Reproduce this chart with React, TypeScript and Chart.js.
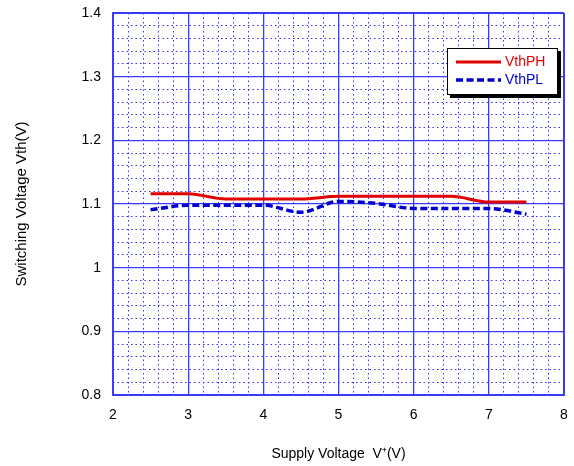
import React, { useEffect, useRef } from "react";
import { Chart, registerables } from "chart.js";

Chart.register(...registerables);

const supplyVoltage = [2.5, 3, 3.5, 4, 4.5, 5, 5.5, 6, 6.5, 7, 7.5];
const vthPH = [1.116, 1.116, 1.108, 1.108, 1.108, 1.112, 1.112, 1.112, 1.112, 1.103, 1.103];
const vthPL = [1.091, 1.098, 1.098, 1.098, 1.087, 1.104, 1.101, 1.093, 1.093, 1.093, 1.084];
const seriesLabels = ["VthPH", "VthPL"];
const xTitle = "Supply Voltage  V\u207A(V)";
const yTitle = "Switching Voltage Vth(V)";

const RED = "#e00000";
const BLUE = "#0000d0";
const GRID_MAJOR = "#3a3aff";
const GRID_MINOR = "#3030ff";
const FONT = "'Liberation Sans', Arial, sans-serif";

const legendBox = {
  id: "legendBox",
  afterDraw(chart: any) {
    const { ctx, chartArea } = chart;
    const w = 111;
    const h = 47;
    const x = chartArea.right - 6 - w;
    const y = chartArea.top + 35;
    ctx.save();
    ctx.fillStyle = "#000";
    ctx.fillRect(x + 3, y + 3, w, h);
    ctx.fillStyle = "#fff";
    ctx.fillRect(x, y, w, h);
    ctx.strokeStyle = "#000";
    ctx.lineWidth = 1;
    ctx.strokeRect(x + 0.5, y + 0.5, w - 1, h - 1);
    const rows = [14, 32];
    chart.data.datasets.forEach((ds: any, i: number) => {
      const ly = y + rows[i];
      ctx.beginPath();
      ctx.strokeStyle = ds.borderColor;
      ctx.lineWidth = ds.borderWidth;
      ctx.setLineDash(ds.borderDash || []);
      ctx.moveTo(x + 9, ly);
      ctx.lineTo(x + 54, ly);
      ctx.stroke();
      ctx.setLineDash([]);
      ctx.fillStyle = ds.borderColor;
      ctx.font = `14px ${FONT}`;
      ctx.textBaseline = "middle";
      ctx.textAlign = "left";
      ctx.fillText(ds.label, x + 58, ly + 0.5);
    });
    ctx.restore();
  },
};

export default function App() {
  const ref = useRef<HTMLCanvasElement | null>(null);

  useEffect(() => {
    document.body.style.margin = "0";
    const canvas = ref.current;
    if (!canvas) return;
    const isInt = (v: number) => Math.abs(v - Math.round(v)) < 1e-6;
    const isTenth = (v: number) => Math.abs(v * 10 - Math.round(v * 10)) < 1e-6;
    const chart = new Chart(canvas, {
      type: "line",
      data: {
        datasets: [
          {
            label: seriesLabels[0],
            data: supplyVoltage.map((x, i) => ({ x, y: vthPH[i] })),
            borderColor: RED,
            borderWidth: 3,
            pointRadius: 0,
            cubicInterpolationMode: "monotone",
            fill: false,
          },
          {
            label: seriesLabels[1],
            data: supplyVoltage.map((x, i) => ({ x, y: vthPL[i] })),
            borderColor: BLUE,
            borderWidth: 3.5,
            borderDash: [7, 3.5],
            pointRadius: 0,
            cubicInterpolationMode: "monotone",
            fill: false,
          },
        ],
      },
      options: {
        animation: false,
        responsive: false,
        layout: { padding: { top: 13, right: 10, left: 0, bottom: 0 } },
        plugins: { legend: { display: false }, tooltip: { enabled: false } },
        scales: {
          x2: {
            type: "linear",
            position: "top",
            min: 2,
            max: 8,
            ticks: { display: false, stepSize: 0.2 },
            grid: {
              drawTicks: false,
              color: (c: any) => (isInt(c.tick?.value ?? 0) ? "rgba(0,0,0,0)" : GRID_MINOR),
              lineWidth: 1,
            },
            border: { display: false, dash: [1.5, 3] },
            afterFit: (s: any) => {
              s.height = 0;
              s.paddingLeft = 0;
              s.paddingRight = 0;
            },
          },
          y2: {
            type: "linear",
            position: "right",
            min: 0.8,
            max: 1.4,
            ticks: { display: false, stepSize: 0.02 },
            grid: {
              drawTicks: false,
              color: (c: any) => (isTenth(c.tick?.value ?? 0) ? "rgba(0,0,0,0)" : GRID_MINOR),
              lineWidth: 1,
            },
            border: { display: false, dash: [1.5, 3] },
            afterFit: (s: any) => {
              s.width = 0;
              s.paddingTop = 0;
              s.paddingBottom = 0;
            },
          },
          x: {
            type: "linear",
            position: "bottom",
            min: 2,
            max: 8,
            ticks: {
              stepSize: 1,
              autoSkip: false,
              maxRotation: 0,
              padding: 12,
              color: "#000",
              font: { family: FONT, size: 14 },
            },
            grid: {
              drawTicks: false,
              color: GRID_MAJOR,
              lineWidth: (c: any) => (c.tick && (c.tick.value === 2 || c.tick.value === 8) ? 2 : 1.3),
            },
            border: { display: true, color: GRID_MAJOR, width: 2 },
            title: {
              display: true,
              text: xTitle,
              color: "#000",
              font: { family: FONT, size: 14 },
              padding: { top: 0, bottom: 3 },
            },
            afterFit: (s: any) => {
              s.height = 71;
              s.paddingLeft = 0;
              s.paddingRight = 0;
            },
          },
          y: {
            type: "linear",
            position: "left",
            min: 0.8,
            max: 1.4,
            ticks: {
              stepSize: 0.1,
              autoSkip: false,
              padding: 12,
              color: "#000",
              font: { family: FONT, size: 14 },
              callback: (v: any) => String(Number(Number(v).toFixed(1))),
            },
            grid: {
              drawTicks: false,
              color: GRID_MAJOR,
              lineWidth: (c: any) =>
                c.tick && (Math.abs(c.tick.value - 1.4) < 1e-6 || Math.abs(c.tick.value - 0.8) < 1e-6) ? 2 : 1.3,
            },
            border: { display: true, color: GRID_MAJOR, width: 2 },
            title: {
              display: true,
              text: yTitle,
              color: "#000",
              font: { family: FONT, size: 15 },
              padding: { top: 13, bottom: 0 },
            },
            afterFit: (s: any) => {
              s.width = 113;
              s.paddingTop = 0;
              s.paddingBottom = 0;
            },
          },
        },
      },
      plugins: [legendBox],
    } as any);
    return () => chart.destroy();
  }, []);

  return (
    <div style={{ position: "absolute", left: 0, top: 0, width: 574, height: 466, background: "#fff" }}>
      <canvas ref={ref} width={574} height={466} style={{ display: "block" }} />
    </div>
  );
}
